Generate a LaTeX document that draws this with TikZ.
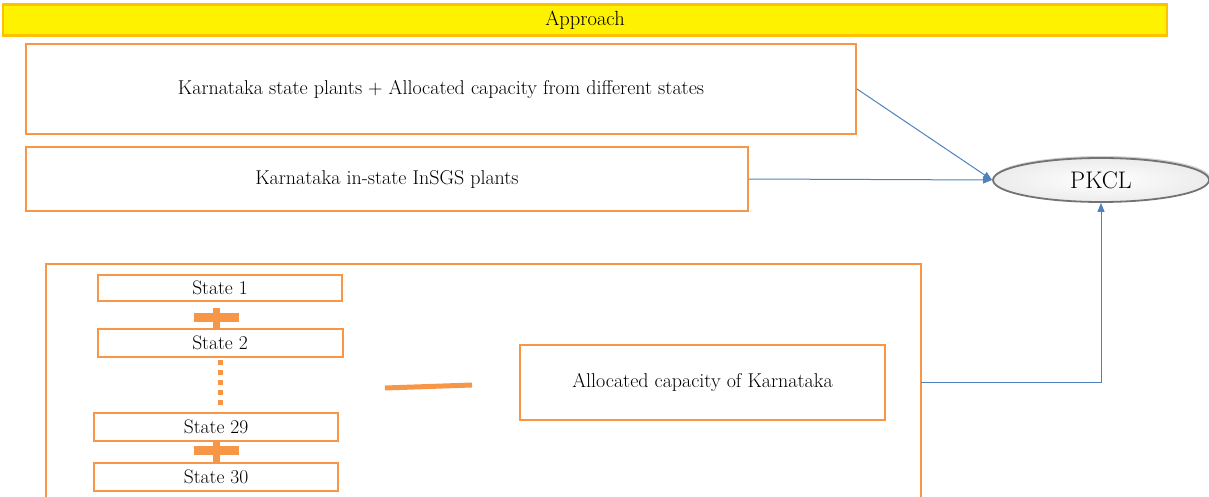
\documentclass[tikz,border=0pt]{standalone}
\usetikzlibrary{arrows.meta,shapes.geometric,shadows}
\definecolor{obox}{HTML}{F79646}
\definecolor{ybord}{HTML}{FFC000}
\definecolor{blu}{HTML}{4F81BD}
\begin{document}
\begin{tikzpicture}[x=1pt,y=-1pt,
  obx/.style={draw=obox,line width=2,fill=white,inner sep=0,anchor=center,font=\fontsize{20}{23}\selectfont},
  stbox/.style={draw=obox,line width=2,fill=white,inner sep=0,anchor=center,font=\fontsize{19.5}{22}\selectfont},
  conn/.style={draw=blu,line width=1,-{Triangle[length=9,width=7]}},
  thick orange/.style={draw=obox,line width=5}
]
\useasboundingbox (0,0) rectangle (1209,497);
% title
\node[draw=ybord,line width=2.5,fill=yellow,minimum width=1164,minimum height=31,inner sep=0,font=\fontsize{20.5}{23}\selectfont] (title) at (585,20) {Approach};
% boxes
\node[obx,minimum width=830,minimum height=90] (b1) at (441,89) {Karnataka state plants + Allocated capacity from different states};
\node[obx,minimum width=722,minimum height=63] (b2) at (387,179) {Karnataka in-state InSGS plants};
% PKCL
\node[ellipse,draw=black!55,line width=1.8,inner color=white,outer color=gray!15,minimum width=216,minimum height=44,font=\fontsize{24}{27}\selectfont,drop shadow={shadow xshift=1,shadow yshift=-2,opacity=0.35}] (pkcl) at (1101,180) {PKCL};
% big box (open at bottom)
\draw[draw=obox,line width=2] (46,497) -- (46,264) -- (921,264) -- (921,497);
\coordinate (bigr) at (921,382);
% states
\node[stbox,minimum width=244,minimum height=26] (s1) at (220,288) {State 1};
\node[stbox,minimum width=245,minimum height=28] (s2) at (220,343) {State 2};
\node[stbox,minimum width=244,minimum height=28] (s29) at (216,427) {State 29};
\node[stbox,minimum width=244,minimum height=28] (s30) at (216,477) {State 30};
% plus signs
\fill[obox] (194,313) rectangle (239,322);
\fill[obox] (212.5,308) rectangle (220,329);
\fill[obox] (194,446) rectangle (239,455);
\fill[obox] (212.5,441) rectangle (220,463);
% dotted
\draw[draw=obox,line width=5,dash pattern=on 5 off 5] (s2.south -| 220,0) ++(0,2) coordinate (d1) -- (220,409) coordinate (d2);
% minus
\draw[thick orange] (385,388) coordinate (m1) -- (472,385) coordinate (m2);
% allocated
\node[obx,minimum width=365,minimum height=75] (alloc) at (702.5,382) {Allocated capacity of Karnataka};
% connectors
\draw[conn] (b1.east) -- (pkcl.west);
\draw[conn] (b2.east) -- (pkcl.west);
\draw[conn] (bigr) -| (pkcl.south);
\end{tikzpicture}
\end{document}
